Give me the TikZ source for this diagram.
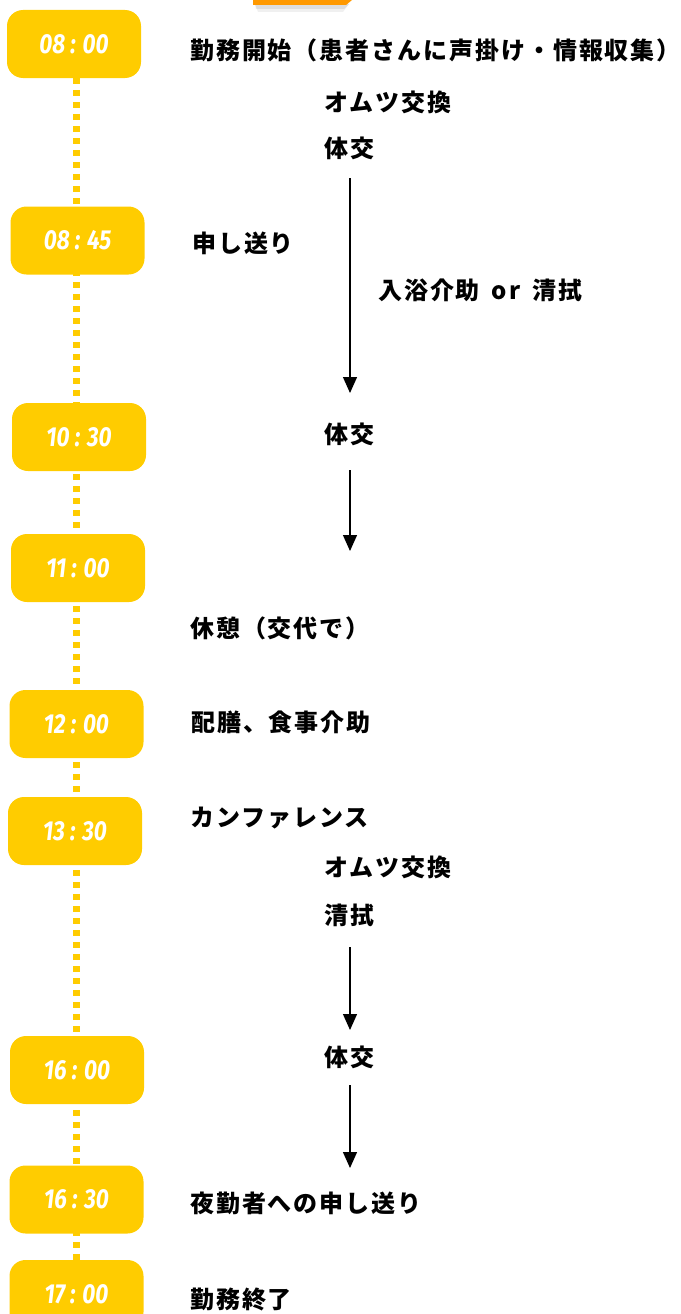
\documentclass[tikz,border=0pt]{standalone}
\usepackage{fontspec}
\usepackage{xcolor}
\usetikzlibrary{arrows.meta}
\newfontfamily\jpfont{Noto Sans CJK JP}[LetterSpace=8]
\newfontfamily\timefont{Fira Sans}[FakeStretch=0.82]
\definecolor{timeyellow}{HTML}{FFCC00}
\definecolor{taborange}{HTML}{FF9900}

\begin{document}
\begin{tikzpicture}[x=1pt,y=-1pt,
    timebox/.style={rounded corners=16pt,fill=timeyellow,minimum width=134pt,minimum height=68pt,inner sep=0pt,text=white,font=\timefont\bfseries\itshape\fontsize{27.5}{27.5}\selectfont},
    task/.style={anchor=west,inner sep=0pt,font=\jpfont\bfseries\fontsize{24}{24}\selectfont},
    flow/.style={line width=1.3pt,-{Triangle[length=16pt,width=14pt]}}]
    \useasboundingbox (0,0) rectangle (680,1314);

    % tab at the top, cut by the edge
    \fill[black,opacity=0.06] (255,4) -- (349,4) -- (343,12) -- (258,12) -- cycle;
    \fill[black,opacity=0.08] (255,4) -- (349,4) -- (344,9) -- (256,9) -- cycle;
    \fill[taborange] (253,-2) -- (352,-2) -- (352,0) -- (346,5) -- (253,5) -- cycle;

    % dotted time line
    \coordinate (linetop) at (76,78);
    \coordinate (linebottom) at (76,1314);
    \draw[timeyellow,line width=7pt,dash pattern=on 6pt off 6pt] (linetop) -- (linebottom);

    \node (t0800) at (74,44) [timebox] {08 : 00};
    \node (t0845) at (77.5,240.5) [timebox] {08 : 45};
    \node (t1030) at (79,437) [timebox] {10 : 30};
    \node (t1100) at (78,568) [timebox] {11 : 00};
    \node (t1200) at (76.5,724) [timebox] {12 : 00};
    \node (t1330) at (75,831) [timebox] {13 : 30};
    \node (t1600) at (77,1070) [timebox] {16 : 00};
    \node (t1630) at (76.5,1199.5) [timebox] {16 : 30};
    \node (t1700) at (76.5,1294) [timebox] {17 : 00};

    \node (start) at (190,50) [task] {勤務開始（患者さんに声掛け・情報収集）};
    \node (omutsua) at (324,102) [task] {オムツ交換};
    \node (taikoa) at (324,148) [task] {体交};
    \node (okuria) at (192,243) [task] {申し送り};
    \node (bath) at (378,290) [task] {入浴介助\hspace{12pt}or\hspace{12pt}清拭};
    \node (taikob) at (324,434) [task] {体交};
    \node (rest) at (190,628) [task] {休憩（交代で）};
    \node (meal) at (191,722) [task] {配膳、食事介助};
    \node (conf) at (190,818) [task] {カンファレンス};
    \node (omutsub) at (324,867) [task] {オムツ交換};
    \node (seishiki) at (324,915) [task] {清拭};
    \node (taikoc) at (324,1057) [task] {体交};
    \node (okurib) at (190,1203) [task] {夜勤者への申し送り};
    \node (finish) at (190,1299) [task] {勤務終了};

    \coordinate (aa) at (350,178);  \coordinate (ab) at (350,393);
    \coordinate (ba) at (350,470);  \coordinate (bb) at (350,551);
    \coordinate (ca) at (350,947);  \coordinate (cb) at (350,1030);
    \coordinate (da) at (350,1085); \coordinate (db) at (350,1168);
    \draw[flow] (aa) -- (ab);
    \draw[flow] (ba) -- (bb);
    \draw[flow] (ca) -- (cb);
    \draw[flow] (da) -- (db);
\end{tikzpicture}
\end{document}
